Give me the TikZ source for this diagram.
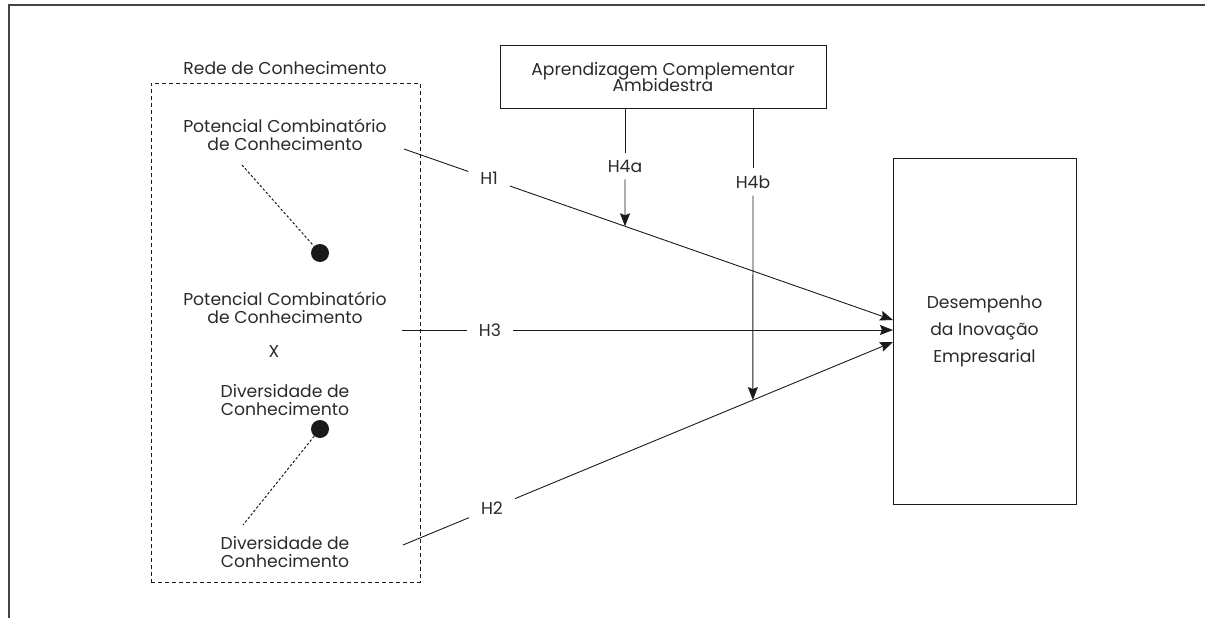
\documentclass[tikz,border=0pt]{standalone}
\usepackage{fontspec}
\setmainfont{Poppins}
\usetikzlibrary{arrows.meta,calc}
\definecolor{txt}{HTML}{2A2A2A}
\definecolor{ln}{HTML}{1A1A1A}
\definecolor{frame}{HTML}{444444}
\tikzset{
  base/.style={font=\fontsize{17.2}{18}\selectfont, text=txt},
  txtnode/.style={base, align=center, inner sep=0pt},
  hlab/.style={base, inner xsep=12pt, inner ysep=7pt},
  boxnode/.style={draw=ln, line width=1pt, align=center, base},
  conn/.style={draw=ln, line width=0.9pt},
  arr/.style={conn, -{Stealth[length=13pt,width=10pt,inset=2pt]}},
  dotlink/.style={draw=ln, line width=1pt, dash pattern=on 2.5pt off 2pt},
  bigdot/.style={circle, fill=ln, inner sep=0pt, minimum size=18pt},
}
\begin{document}
\begin{tikzpicture}[x=1pt,y=-1pt]
\useasboundingbox (0,0) rectangle (1205,618);
% frame
\draw[line width=1.5pt, draw=frame] (9,618) -- (9,5) -- (1205,5);

% knowledge network
\node[txtnode] (rede) at (285,68) {Rede de Conhecimento};
\node[draw=ln, line width=0.9pt, dash pattern=on 4pt off 3pt,
      minimum width=269pt, minimum height=499pt, inner sep=0pt] (redebox) at (285.5,332.5) {};
\node[txtnode] (pc1) at (285,135) {Potencial Combinatório\\de Conhecimento};
\node[bigdot] (dot1) at (320,253) {};
\node[txtnode] (pc2) at (285,308) {Potencial Combinatório\\de Conhecimento};
\node[txtnode] (xx) at (274,352) {X};
\node[txtnode] (dv1) at (285,400) {Diversidade de\\Conhecimento};
\node[bigdot] (dot2) at (320,429) {};
\node[txtnode] (dv2) at (285,552) {Diversidade de\\Conhecimento};

\coordinate (d1s) at (242,165);
\coordinate (d2e) at (243,525);
\draw[dotlink] (d1s) -- (dot1);
\draw[dotlink] (dot2) -- (d2e);

% moderator and outcome
\node[boxnode, minimum width=326pt, minimum height=62pt, inner sep=0pt] (apr) at (663,77)
  {Aprendizagem Complementar\\[-2pt]Ambidestra};
\node[boxnode, minimum width=183pt, minimum height=346pt, inner sep=0pt,
      font=\fontsize{17.2}{27}\selectfont] (des) at (984.5,331)
  {Desempenho\\da Inovação\\Empresarial};

% H1
\coordinate (h1s) at (404,149);
\coordinate (h1e) at (893,320);
\node[hlab] (H1) at ($(h1s)!0.174!(h1e)$) {H1};
\draw[conn] (h1s) -- (H1);
\draw[arr] (H1) -- (h1e);

% H3
\coordinate (h3s) at (402,330);
\coordinate (h3e) at (893,330);
\node[hlab] (H3) at (490,330) {H3};
\draw[conn] (h3s) -- (H3);
\draw[arr] (H3) -- (h3e);

% H2
\coordinate (h2s) at (403,545);
\coordinate (h2e) at (893,342);
\node[hlab] (H2) at ($(h2s)!0.1816!(h2e)$) {H2};
\draw[conn] (h2s) -- (H2);
\draw[arr] (H2) -- (h2e);

% H4a
\coordinate (h4as) at (625,108);
\coordinate (h4ae) at ($(h1s)!0.452!(h1e)$);
\node[hlab] (H4a) at (625,166) {H4a};
\draw[conn] (h4as) -- (H4a);
\draw[arr] (H4a) -- (h4ae);

% H4b
\coordinate (h4bs) at (753,108);
\coordinate (h4be) at ($(h2s)!0.714!(h2e)$);
\node[hlab] (H4b) at (753,182) {H4b};
\draw[conn] (h4bs) -- (H4b);
\draw[arr] (H4b) -- (h4be);
\end{tikzpicture}
\end{document}
